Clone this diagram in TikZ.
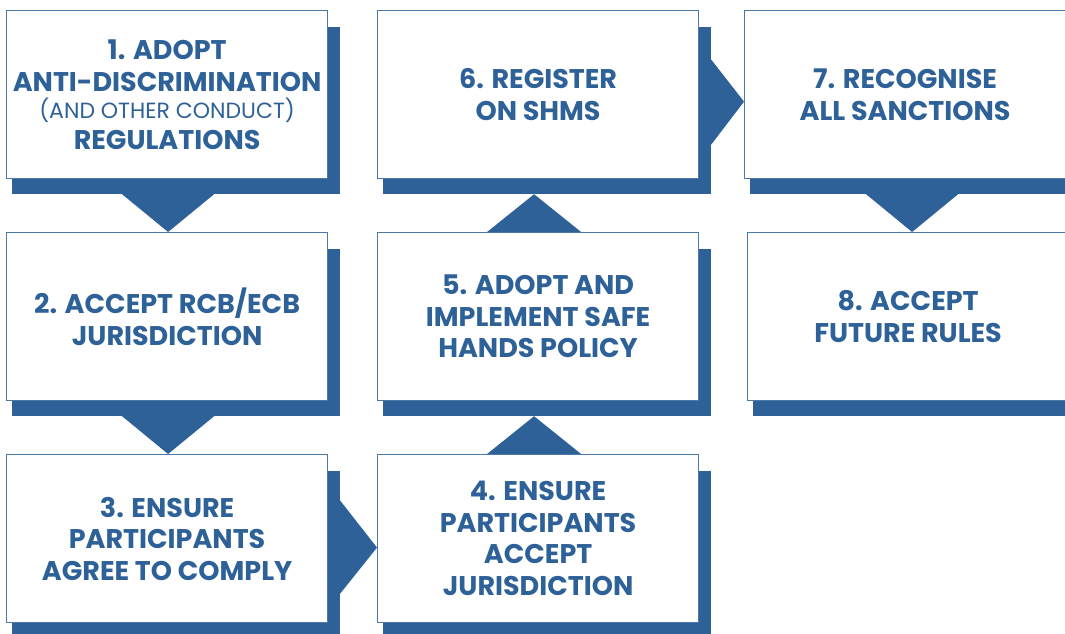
\documentclass[tikz,border=0pt]{standalone}
\usepackage{fontspec}
\setmainfont{Poppins}
\usetikzlibrary{calc,backgrounds}
\definecolor{rcbblue}{RGB}{45,97,152}

\begin{document}
\begin{tikzpicture}[x=1pt, y=-1pt,
    stepbox/.style={draw=rcbblue!85, line width=1.2pt, fill=white, anchor=north west,
        minimum width=321pt, minimum height=168pt, inner sep=0pt, align=center,
        text=rcbblue, font=\bfseries\fontsize{27}{31.5}\selectfont},
    backing/.style={fill=rcbblue},
    pointer/.style={fill=rcbblue}]
    \clip (0,0) rectangle (1065,633);
    \node[stepbox] (s1) at (6,10) {1. ADOPT\\ANTI-DISCRIMINATION\\[-4pt]{\mdseries\fontsize{22}{24}\selectfont (AND OTHER CONDUCT)}\\[-1pt]REGULATIONS};
    \node[stepbox] (s2) at (6,232) {2. ACCEPT RCB/ECB\\JURISDICTION};
    \node[stepbox] (s3) at (6,454) {3. ENSURE\\PARTICIPANTS\\AGREE TO COMPLY};
    \node[stepbox] (s4) at (377,454) {4. ENSURE\\PARTICIPANTS\\ACCEPT\\JURISDICTION};
    \node[stepbox] (s5) at (377,232) {5. ADOPT AND\\IMPLEMENT SAFE\\HANDS POLICY};
    \node[stepbox] (s6) at (377,10) {6. REGISTER\\ON SHMS};
    \node[stepbox] (s7) at (744,10) {7. RECOGNISE\\ALL SANCTIONS};
    \node[stepbox] (s8) at (747,232) {8. ACCEPT\\FUTURE RULES};
    \begin{scope}[on background layer]
    \foreach \s in {s1,s2,s3,s4,s5,s6,s7,s8}
        \fill[backing] ($(\s.north west)+(6,17)$) rectangle ($(\s.south east)+(12,15)$);
    \fill[pointer] ($(s1.south)+(-45,15)$) -- ($(s1.south)+(47,15)$) -- ($(s2.north)+(1,0)$) -- cycle;
    \fill[pointer] ($(s2.south)+(-45,15)$) -- ($(s2.south)+(47,15)$) -- ($(s3.north)+(1,0)$) -- cycle;
    \fill[pointer] ($(s3.east)+(12,-38)$) -- ($(s3.east)+(12,55)$) -- ($(s4.west)+(0,9)$) -- cycle;
    \fill[pointer] ($(s4.north)+(-51,0)$) -- ($(s4.north)+(43,0)$) -- ($(s5.south)+(-4,15)$) -- cycle;
    \fill[pointer] ($(s5.north)+(-51,0)$) -- ($(s5.north)+(43,0)$) -- ($(s6.south)+(-4,15)$) -- cycle;
    \fill[pointer] ($(s6.east)+(12,-35)$) -- ($(s6.east)+(12,50)$) -- ($(s7.west)+(0,7)$) -- cycle;
    \fill[pointer] ($(s7.south)+(-39,15)$) -- ($(s7.south)+(53,15)$) -- ($(s8.north)+(4,0)$) -- cycle;
    \end{scope}
\end{tikzpicture}
\end{document}
